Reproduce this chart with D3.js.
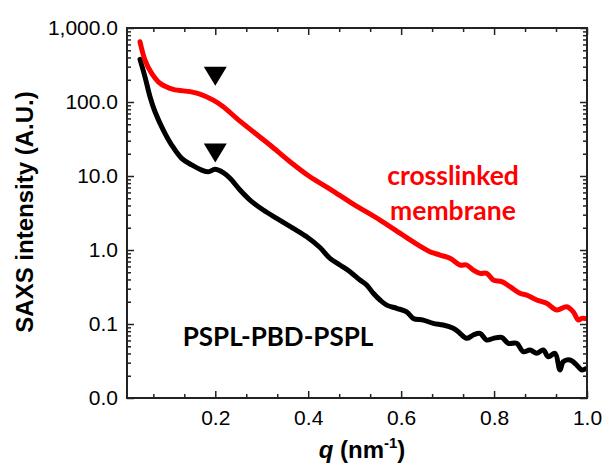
<!DOCTYPE html>
<html>
<head>
<meta charset="utf-8">
<script src="https://cdn.jsdelivr.net/npm/d3@7"></script>
<style>
  body { margin: 0; background: #fff; }
  svg { display: block; }
  .tick text { font-family: "Liberation Sans", Arial, sans-serif; font-size: 21px; fill: #000; }
</style>
</head>
<body>
<div id="chart"></div>
<script>
// Data: q in nm^-1, intensity in A.U.
const qRed = [0.038, 0.0487, 0.0632, 0.081, 0.1096, 0.1456, 0.167, 0.1957, 0.2172, 0.246,
  0.2818, 0.3177, 0.3608, 0.4038, 0.4469, 0.497, 0.5545, 0.5975, 0.6119, 0.6405,
  0.662, 0.6836, 0.7051, 0.7266, 0.741, 0.7552, 0.7697, 0.7841, 0.7983, 0.8164,
  0.8342, 0.8557, 0.8702, 0.8917, 0.9132, 0.9347, 0.9563, 0.9705, 0.9812, 0.9885,
  0.9956];
const iRed = [652, 369, 244, 179, 148, 138, 128, 106, 86.3, 60.2,
  39.6, 26.2, 15.6, 9.77, 6.67, 4.18, 2.54, 1.69, 1.47, 1.13,
  0.948, 0.855, 0.772, 0.627, 0.627, 0.536, 0.484, 0.484, 0.393, 0.373,
  0.319, 0.260, 0.246, 0.211, 0.190, 0.155, 0.171, 0.146, 0.113, 0.119,
  0.119];

const qBlack = [0.038, 0.0487, 0.0595, 0.0703, 0.0881, 0.1062, 0.1277, 0.1492, 0.1708, 0.185,
  0.1994, 0.2172, 0.2317, 0.2532, 0.2747, 0.3033, 0.3322, 0.3679, 0.3967, 0.4253,
  0.4469, 0.4684, 0.4899, 0.5114, 0.5258, 0.5401, 0.5545, 0.5689, 0.5904, 0.6119,
  0.6261, 0.6476, 0.6692, 0.6907, 0.7122, 0.723, 0.7266, 0.741, 0.7552, 0.7697,
  0.7841, 0.7983, 0.8164, 0.8306, 0.8486, 0.8629, 0.8773, 0.8917, 0.9059, 0.9167,
  0.9311, 0.9418, 0.9489, 0.9633, 0.9778, 0.9885, 0.9978];
const iBlack = [377, 219, 118, 73.9, 41.8, 26.2, 17.3, 14.1, 12.0, 11.4,
  12.3, 11.1, 9.31, 6.46, 4.73, 3.47, 2.68, 1.96, 1.51, 1.08,
  0.772, 0.627, 0.509, 0.393, 0.336, 0.260, 0.211, 0.180, 0.163, 0.146,
  0.119, 0.113, 0.102, 0.0968, 0.0874, 0.0786, 0.0748, 0.064, 0.071, 0.0748,
  0.0607, 0.064, 0.066, 0.0548, 0.0548, 0.0422, 0.0445, 0.0402, 0.0445, 0.0361,
  0.0402, 0.0239, 0.0309, 0.0326, 0.0279, 0.0239, 0.025];

// peak markers (inverted triangles)
const markerQ = [0.2, 0.2];
const markerI = [222, 20.4];

const xTicks = [0.2, 0.4, 0.6, 0.8, 1.0];
const yTicks = [0.01, 0.1, 1, 10, 100, 1000];

const margin = { top: 28, right: 16, bottom: 73, left: 127 };
const width = 603 - margin.left - margin.right;
const height = 471 - margin.top - margin.bottom;

const svg = d3.select("#chart").append("svg")
    .attr("width", 603)
    .attr("height", 471);

const g = svg.append("g")
    .attr("transform", "translate(" + margin.left + "," + margin.top + ")");

const x = d3.scaleLinear().domain([0.01, 1.0]).range([0, width]);
const y = d3.scaleLog().domain([0.01, 1000]).range([height, 0]);

const xMinor = d3.range(1, 15).filter(i => i % 3 !== 0).map(i => i / 15);
const yMinor = [];
[0.01, 0.1, 1, 10, 100].forEach(dec => {
    for (let m = 2; m <= 9; m++) yMinor.push(dec * m);
});

const fmt = d3.format(",.1f");

// bottom axis
g.append("g")
    .attr("transform", "translate(0," + height + ")")
    .call(d3.axisBottom(x).tickValues(xTicks).tickSizeInner(-7).tickSizeOuter(0)
        .tickPadding(12).tickFormat(d3.format(".1f")));
g.append("g")
    .attr("transform", "translate(0," + height + ")")
    .call(d3.axisBottom(x).tickValues(xMinor).tickSizeInner(-4).tickSizeOuter(0).tickFormat(""));
// top axis
g.append("g")
    .call(d3.axisTop(x).tickValues(xTicks).tickSizeInner(-7).tickSizeOuter(0).tickFormat(""));
g.append("g")
    .call(d3.axisTop(x).tickValues(xMinor).tickSizeInner(-4).tickSizeOuter(0).tickFormat(""));

// left axis
g.append("g")
    .call(d3.axisLeft(y).tickValues(yTicks).tickSizeInner(-7).tickSizeOuter(0)
        .tickPadding(9).tickFormat(fmt));
g.append("g")
    .call(d3.axisLeft(y).tickValues(yMinor).tickSizeInner(-4).tickSizeOuter(0).tickFormat(""));
// right axis
g.append("g")
    .attr("transform", "translate(" + width + ",0)")
    .call(d3.axisRight(y).tickValues(yTicks).tickSizeInner(-7).tickSizeOuter(0).tickFormat(""));
g.append("g")
    .attr("transform", "translate(" + width + ",0)")
    .call(d3.axisRight(y).tickValues(yMinor).tickSizeInner(-4).tickSizeOuter(0).tickFormat(""));

g.selectAll(".domain").remove();
g.selectAll(".tick line").attr("stroke", "#222").attr("stroke-width", 1.5);

// curves
g.append("clipPath").attr("id", "clip")
    .append("rect").attr("width", width).attr("height", height);

const line = d3.line()
    .x(d => x(d[0]))
    .y(d => y(d[1]))
    .curve(d3.curveCatmullRom.alpha(0.5));

const redData = qRed.map((q, i) => [q, iRed[i]]);
const blackData = qBlack.map((q, i) => [q, iBlack[i]]);

g.append("path")
    .datum(blackData)
    .attr("clip-path", "url(#clip)")
    .attr("d", line)
    .style("fill", "none")
    .style("stroke", "#000")
    .style("stroke-width", 5)
    .style("stroke-linejoin", "round")
    .style("stroke-linecap", "round");

g.append("path")
    .datum(redData)
    .attr("clip-path", "url(#clip)")
    .attr("d", line)
    .style("fill", "none")
    .style("stroke", "#ff0000")
    .style("stroke-width", 5)
    .style("stroke-linejoin", "round")
    .style("stroke-linecap", "round");

// frame
g.append("rect")
    .attr("width", width)
    .attr("height", height)
    .attr("fill", "none")
    .attr("stroke", "#222")
    .attr("stroke-width", 2);

// markers
markerQ.forEach((q, i) => {
    const cx = x(q), cy = y(markerI[i]);
    g.append("path")
        .attr("d", `M${cx - 11.5},${cy - 9.5}L${cx + 11.5},${cy - 9.5}L${cx},${cy + 9.5}Z`)
        .attr("fill", "#000");
});

// annotations
const ann = svg.append("g")
    .style("font-family", "Lato, 'Open Sans', sans-serif")
    .style("font-weight", "bold");

ann.append("text")
    .attr("x", 453).attr("y", 185)
    .attr("text-anchor", "middle")
    .style("font-size", "26.5px")
    .style("fill", "#ff0000")
    .text("crosslinked");
ann.append("text")
    .attr("x", 453).attr("y", 220)
    .attr("text-anchor", "middle")
    .style("font-size", "26.5px")
    .style("fill", "#ff0000")
    .text("membrane");
ann.append("text")
    .attr("x", 278).attr("y", 346)
    .attr("text-anchor", "middle")
    .style("font-size", "26px")
    .style("fill", "#000")
    .text("PSPL-PBD-PSPL");

// axis titles
svg.append("text")
    .attr("transform", "translate(33,212) rotate(-90)")
    .attr("text-anchor", "middle")
    .style("font-family", "'Liberation Sans', Arial, sans-serif")
    .style("font-weight", "bold")
    .style("font-size", "24px")
    .text("SAXS intensity (A.U.)");

const xt = svg.append("text")
    .attr("x", 362).attr("y", 458)
    .attr("text-anchor", "middle")
    .style("font-family", "'Liberation Sans', Arial, sans-serif")
    .style("font-weight", "bold")
    .style("font-size", "24px");
xt.append("tspan").style("font-style", "italic").text("q");
xt.append("tspan").text(" (nm");
xt.append("tspan").attr("dy", -10).style("font-size", "15px").text("-1");
xt.append("tspan").attr("dy", 10).text(")");
</script>
</body>
</html>
